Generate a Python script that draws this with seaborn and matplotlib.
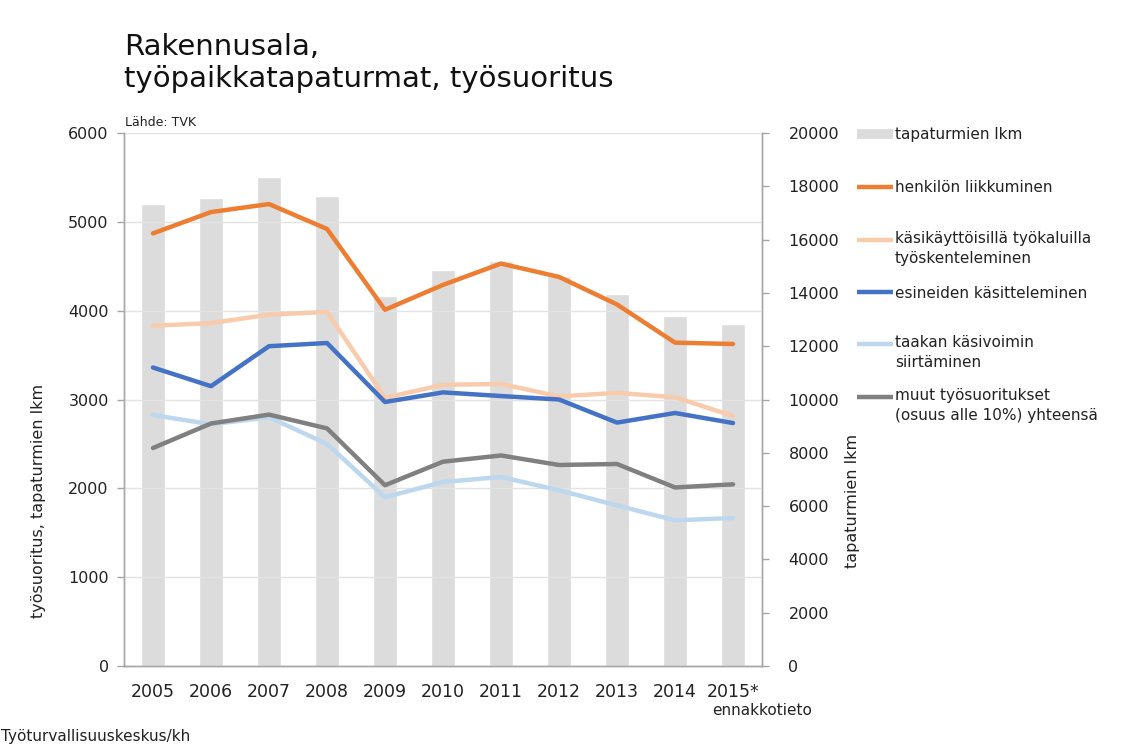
import numpy as np
import pandas as pd
import matplotlib
matplotlib.use("Agg")
import matplotlib.pyplot as plt
import seaborn as sns
from matplotlib.lines import Line2D

# ---- data ----
years = ["2005", "2006", "2007", "2008", "2009", "2010", "2011", "2012", "2013", "2014", "2015*"]
accidents = [17350, 17550, 18350, 17650, 13900, 14850, 15200, 14650, 13950, 13150, 12850]
henkilon_liikkuminen = [4870, 5110, 5200, 4920, 4010, 4290, 4530, 4380, 4070, 3640, 3625]
kasikayttoisilla = [3830, 3860, 3955, 3985, 3020, 3165, 3175, 3035, 3075, 3025, 2815]
esineiden_kasittely = [3360, 3150, 3600, 3636, 2972, 3080, 3039, 3000, 2740, 2848, 2735]
taakan_siirtaminen = [2826, 2720, 2800, 2500, 1900, 2071, 2128, 1978, 1808, 1640, 1666]
muut = [2454, 2730, 2830, 2675, 2035, 2300, 2370, 2263, 2274, 2010, 2045]

series_labels = [
    "henkilön liikkuminen",
    "käsikäyttöisillä työkaluilla\ntyöskenteleminen",
    "esineiden käsitteleminen",
    "taakan käsivoimin\nsiirtäminen",
    "muut työsuoritukset\n(osuus alle 10%) yhteensä",
]
series_values = [henkilon_liikkuminen, kasikayttoisilla, esineiden_kasittely,
                 taakan_siirtaminen, muut]
series_colors = ["#ED7D31", "#F8CBAD", "#4472C4", "#BDD7EE", "#808080"]
bar_label = "tapaturmien lkm"
bar_color = "#DCDCDC"

left_ticks = [0, 1000, 2000, 3000, 4000, 5000, 6000]
right_ticks = [0, 2000, 4000, 6000, 8000, 10000, 12000, 14000, 16000, 18000, 20000]

# ---- frames ----
df_bar = pd.DataFrame({"vuosi": years, "lkm": accidents})
rows = []
for lab, vals in zip(series_labels, series_values):
    for i, (yr, v) in enumerate(zip(years, vals)):
        rows.append({"pos": i, "vuosi": yr, "sarja": lab, "arvo": v})
df_lines = pd.DataFrame(rows)

sns.set_theme(style="white")
plt.rcParams['font.family'] = ['DejaVu Sans']

W, H = 1141, 744
fig = plt.figure(figsize=(W / 100, H / 100), dpi=100)
fig.patch.set_facecolor("white")

def fx(px):
    return px / W

def fy(py):
    return 1 - py / H

ax = fig.add_axes([fx(124), fy(666), fx(762) - fx(124), fy(133) - fy(666)])
ax2 = ax.twinx()

sns.barplot(data=df_bar, x="vuosi", y="lkm", ax=ax2, color=bar_color,
            width=0.42, saturation=1, errorbar=None)

sns.lineplot(data=df_lines, x="pos", y="arvo", hue="sarja",
             hue_order=series_labels, palette=series_colors,
             linewidth=3.2, legend=False, ax=ax, sort=False)
for ln in ax.get_lines():
    ln.set_solid_joinstyle("round")

ax.set_zorder(ax2.get_zorder() + 1)
ax.patch.set_visible(False)

ax.set_xlim(-0.5, len(years) - 0.5)
ax.set_ylim(0, 6000)
ax2.set_ylim(0, 20000)
ax.set_yticks(left_ticks)
ax2.set_yticks(right_ticks)
ax.set_yticklabels([str(t) for t in left_ticks], fontsize=11.5, color="#222222")
ax2.set_yticklabels([str(t) for t in right_ticks], fontsize=11.5, color="#222222")
ax.set_xticks(range(len(years)))
ax.set_xticklabels(years, fontsize=12.5, color="#222222",
                   family=['Liberation Sans Narrow', 'DejaVu Sans'])

ax.grid(axis="y", color="#E3E3E3", linewidth=1)
ax.set_axisbelow(True)
ax.grid(axis="x", visible=False)
ax2.grid(False)

ax.tick_params(axis="x", length=0, pad=12)
ax.tick_params(axis="y", length=5, width=1, color="#A6A6A6", pad=6, left=True)
ax2.tick_params(axis="y", length=5, width=1, color="#A6A6A6", pad=14, right=True)

for a in (ax, ax2):
    a.spines["top"].set_visible(False)
    for s in ("left", "right", "bottom"):
        a.spines[s].set_color("#A6A6A6")
        a.spines[s].set_linewidth(1)

ax.set_xlabel("")
ax.set_ylabel("työsuoritus, tapaturmien lkm", fontsize=11.5, color="#222222")
ax.yaxis.set_label_coords(-0.122, 0.31)
ax2.set_xlabel("")
ax2.set_ylabel("tapaturmien lkm", fontsize=11.5, color="#222222")
ax2.yaxis.set_label_coords(1.13, 0.31)

ax.text(1.0, -0.083, "ennakkotieto", transform=ax.transAxes, ha="center",
        va="center", fontsize=11, color="#222222",
        family=['Liberation Sans Narrow', 'DejaVu Sans'])

# title and notes
fig.text(fx(124), fy(63), "Rakennusala,\ntyöpaikkatapaturmat, työsuoritus",
         fontsize=21, color="#111111", ha="left", va="center", linespacing=1.2)
fig.text(fx(125), fy(122), "Lähde: TVK", fontsize=9, color="#222222",
         ha="left", va="center")
fig.text(fx(1), fy(737), "Työturvallisuuskeskus/kh", fontsize=11, color="#222222",
         ha="left", va="center", family=['Liberation Sans Narrow', 'DejaVu Sans'])

# legend (manual, right side)
leg_y = [134, 187, 240, 292, 344, 397]
leg_labels = [bar_label] + series_labels
leg_colors = [bar_color] + series_colors
for i, (yy, lab, col) in enumerate(zip(leg_y, leg_labels, leg_colors)):
    lw = 7 if i == 0 else 3.2
    fig.add_artist(Line2D([fx(857), fx(893)], [fy(yy), fy(yy)], color=col,
                          linewidth=lw, solid_capstyle="butt",
                          transform=fig.transFigure))
    if "\n" in lab:
        fig.text(fx(895), fy(yy - 9), lab, fontsize=11, color="#222222",
                 ha="left", va="top", linespacing=1.45)
    else:
        fig.text(fx(895), fy(yy + 1), lab, fontsize=11, color="#222222",
                 ha="left", va="center")

fig.savefig("out.png", dpi=100, facecolor="white")
